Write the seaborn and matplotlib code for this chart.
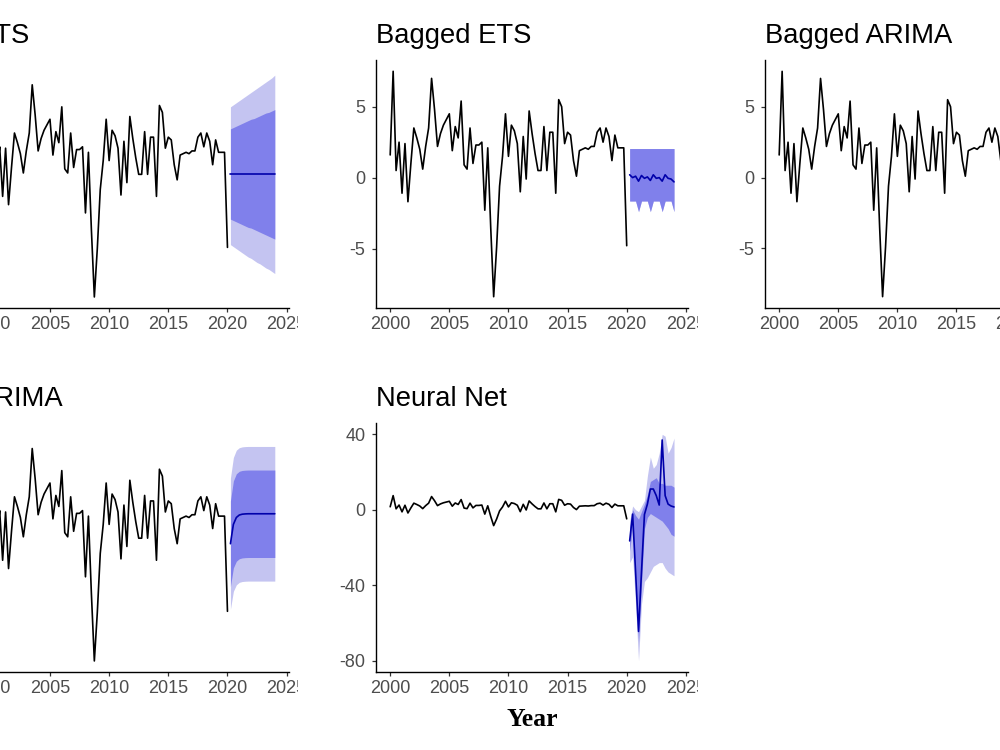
import numpy as np
import pandas as pd
import matplotlib
matplotlib.use("Agg")
import matplotlib.pyplot as plt
import seaborn as sns
from matplotlib.transforms import Bbox, TransformedBbox

# ---------------- data ----------------
hist_start = 2000.0
hist_values = [
    1.6, 7.5, 0.5, 2.5,
    -1.1, 2.4, -1.7, 1.0,
    3.5, 2.8, 2.0, 0.6,
    2.2, 3.5, 7.0, 4.8,
    2.2, 3.1, 3.7, 4.1,
    4.5, 1.9, 3.6, 2.8,
    5.4, 0.9, 0.6, 3.5,
    1.0, 2.3, 2.3, 2.5,
    -2.3, 2.1, -3.5, -8.4,
    -4.9, -0.6, 1.5, 4.5,
    1.5, 3.7, 3.3, 2.4,
    -1.0, 2.9, -0.1, 4.7,
    3.1, 1.7, 0.5, 0.5,
    3.6, 0.5, 3.2, 3.2,
    -1.1, 5.5, 5.0, 2.4,
    3.2, 3.0, 1.2, 0.1,
    1.9, 2.0, 2.1, 2.0,
    2.2, 2.2, 3.2, 3.5,
    2.5, 3.5, 2.9, 1.2,
    3.0, 2.1, 2.1, 2.1,
    -4.8,
]
fc_start = 2020.25

ets_mean = [0.53] * 16
ets_lo95 = [-4.6, -4.75, -4.9, -5.05, -5.2, -5.35, -5.5, -5.6, -5.75, -5.9, -6.0, -6.15, -6.3, -6.4, -6.55, -6.7]
ets_lo80 = [-2.75, -2.85, -2.95, -3.05, -3.15, -3.25, -3.35, -3.4, -3.5, -3.6, -3.7, -3.8, -3.9, -4.0, -4.1, -4.2]
ets_hi80 = [3.8, 3.9, 4.0, 4.1, 4.2, 4.3, 4.4, 4.5, 4.55, 4.65, 4.75, 4.85, 4.95, 5.0, 5.1, 5.2]
ets_hi95 = [5.4, 5.55, 5.7, 5.85, 6.0, 6.15, 6.3, 6.45, 6.6, 6.75, 6.9, 7.05, 7.2, 7.35, 7.5, 7.7]

bets_mean = [0.2, 0.0, 0.1, -0.25, 0.15, -0.05, 0.05, -0.2, 0.2, -0.05, 0.0, -0.25, 0.2, -0.05, -0.1, -0.3]
bets_lo = [-1.65, -1.65, -1.65, -2.4, -1.65, -1.65, -1.65, -2.4, -1.65, -1.65, -1.65, -2.4, -1.65, -1.65, -1.65, -2.4]
bets_hi = [2.05] * 16

arima_mean = [0.1, 1.5, 2.0, 2.18, 2.24, 2.26, 2.27, 2.27, 2.27, 2.27, 2.27, 2.27, 2.27, 2.27, 2.27, 2.27]
arima_hi95 = [4.85, 6.35, 6.88, 7.06, 7.12, 7.14, 7.15, 7.15, 7.15, 7.15, 7.15, 7.15, 7.15, 7.15, 7.15, 7.15]
arima_hi80 = [3.2, 4.65, 5.17, 5.35, 5.41, 5.43, 5.44, 5.44, 5.44, 5.44, 5.44, 5.44, 5.44, 5.44, 5.44, 5.44]
arima_lo80 = [-3.0, -1.65, -1.17, -0.99, -0.93, -0.91, -0.9, -0.9, -0.9, -0.9, -0.9, -0.9, -0.9, -0.9, -0.9, -0.9]
arima_lo95 = [-4.65, -3.35, -2.88, -2.7, -2.64, -2.62, -2.61, -2.61, -2.61, -2.61, -2.61, -2.61, -2.61, -2.61, -2.61, -2.61]

nn_mean = [-16.5, -2.3, -33.0, -64.5, -33.0, -2.5, 3.0, 11.0, 11.0, 7.5, 2.5, 37.0, 7.5, 3.0, 2.0, 1.5]
nn_hi95 = [-6.0, 2.0, 0.0, -1.0, 2.0, 5.0, 18.0, 28.0, 22.0, 24.0, 30.0, 40.0, 39.0, 30.0, 33.0, 38.0]
nn_hi80 = [-10.0, 0.0, -3.0, -5.0, -1.0, 3.0, 8.0, 15.0, 16.0, 17.0, 14.0, 14.0, 13.0, 13.0, 13.0, 12.0]
nn_lo80 = [-22.0, -8.0, -40.0, -70.0, -40.0, -10.0, -4.0, -2.0, -3.0, -4.0, -5.0, -6.0, -8.0, -10.0, -13.0, -14.0]
nn_lo95 = [-28.0, -25.0, -50.0, -80.0, -50.0, -38.0, -36.0, -33.0, -30.0, -29.0, -28.0, -28.0, -31.0, -33.0, -34.0, -35.0]

x_ticks = [2000, 2005, 2010, 2015, 2020, 2025]
x_ticklabels = ["2000", "2005", "2010", "2015", "2020", "2025"]

# ---------------- style ----------------
sns.set_theme(style="ticks")
plt.rcParams['font.family'] = ['Liberation Sans', 'DejaVu Sans']

LIGHT = "#C4C4F1"
DARK = "#8080EB"
MEANC = "#0000AA"

hist_years = hist_start + 0.25 * np.arange(len(hist_values))
fc_years = fc_start + 0.25 * np.arange(16)
hist_df = pd.DataFrame({"year": hist_years, "value": hist_values})

fig = plt.figure(figsize=(10, 7.5), dpi=100)

W, H = 1000.0, 750.0
def add_axes(left_px, top_px, right_px, bottom_px):
    return fig.add_axes([left_px / W, 1 - bottom_px / H,
                         (right_px - left_px) / W, (bottom_px - top_px) / H])

panels = [
    dict(title="ETS", pos=(-23.4, 60, 289, 308), fc=(ets_mean, ets_lo95, ets_lo80, ets_hi80, ets_hi95),
         yticks=[-5, 0, 5], ylim=(-9.2, 8.8), clip=298),
    dict(title="Bagged ETS", pos=(376, 60, 688.2, 308), fc=(bets_mean, bets_lo, bets_lo, bets_hi, bets_hi),
         yticks=[-5, 0, 5], ylim=None, clip=698),
    dict(title="Bagged ARIMA", pos=(765, 60, 1077, 308), fc=None,
         yticks=[-5, 0, 5], ylim=(-9.2, 8.3), clip=2000),
    dict(title="ARIMA", pos=(-23.4, 423, 289, 672), fc=(arima_mean, arima_lo95, arima_lo80, arima_hi80, arima_hi95),
         yticks=[-5, 0, 5], ylim=(-9.2, 8.85), clip=298),
    dict(title="Neural Net", pos=(376, 423, 688.2, 672), fc=(nn_mean, nn_lo95, nn_lo80, nn_hi80, nn_hi95),
         yticks=[-80, -40, 0, 40], ylim=None, clip=698),
]

axes = []
for p in panels:
    ax = add_axes(*p["pos"])
    if p["fc"] is not None:
        mean, lo95, lo80, hi80, hi95 = p["fc"]
        ax.fill_between(fc_years, lo95, hi95, color=LIGHT, linewidth=0, zorder=1)
        ax.fill_between(fc_years, lo80, hi80, color=DARK, linewidth=0, zorder=2)
    sns.lineplot(data=hist_df, x="year", y="value", ax=ax, color="black",
                 linewidth=1.2, errorbar=None, zorder=3)
    if p["fc"] is not None:
        fc_df = pd.DataFrame({"year": fc_years, "value": p["fc"][0]})
        sns.lineplot(data=fc_df, x="year", y="value", ax=ax, color=MEANC,
                     linewidth=1.2, errorbar=None, zorder=4)
    ax.set_xlim(1998.8, 2025.2)
    if p["ylim"] is not None:
        ax.set_ylim(*p["ylim"])
    else:
        ax.margins(y=0.05)
    ax.set_xticks(x_ticks)
    ax.set_xticklabels(x_ticklabels)
    ax.set_yticks(p["yticks"])
    ax.set_yticklabels([str(v) for v in p["yticks"]])
    ax.set_xlabel("")
    ax.set_ylabel("")
    ax.set_title(p["title"], loc="left", fontsize=19.7, pad=12, color="black")
    sns.despine(ax=ax)
    for s in ["left", "bottom"]:
        ax.spines[s].set_color("black")
        ax.spines[s].set_linewidth(1.0)
    ax.tick_params(axis="both", which="major", labelsize=13, labelcolor="#4D4D4D",
                   color="#333333", length=3, width=0.9)
    ax.tick_params(axis="x", pad=2.5)
    ax.tick_params(axis="y", pad=4.5)
    ax.grid(False)
    axes.append(ax)

fig.text(0.532, 1 - 719 / H, "Year", ha="center", va="center", color="black",
         fontsize=18.5, fontweight="bold", family=["Liberation Serif", "DejaVu Serif"])

fig.canvas.draw()
for p, ax in zip(panels, axes):
    cb = TransformedBbox(Bbox([[-1.0, 0.0], [p["clip"] / W, 1.0]]), fig.transFigure)
    for lbl in ax.get_xticklabels():
        lbl.set_clip_box(cb)
        lbl.set_clip_on(True)

fig.savefig("out.png", dpi=100, facecolor="white")
